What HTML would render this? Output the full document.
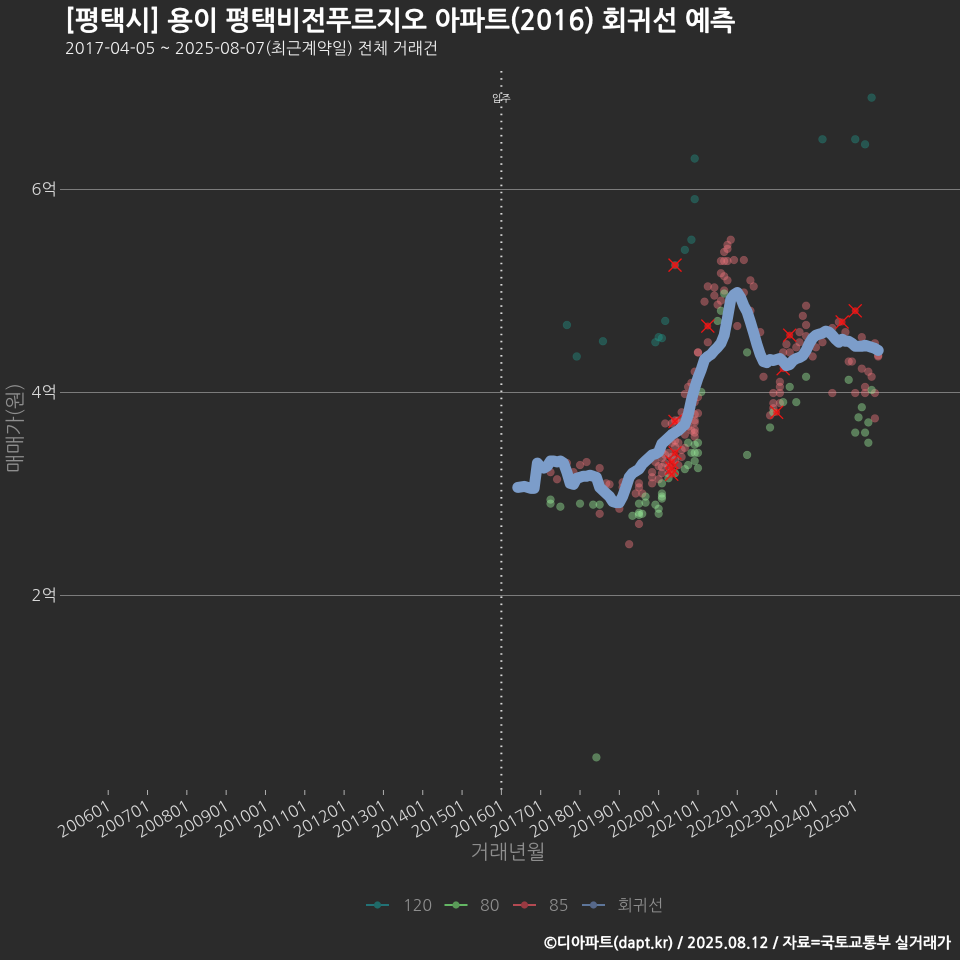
<!DOCTYPE html>
<html lang="ko">
<head>
<meta charset="utf-8">
<title>평택비전푸르지오 회귀선 예측</title>
<style>
html,body{margin:0;padding:0;background:#2b2b2b;}
#chart{display:block;width:960px;height:960px;}
text{font-family:"NanumGothic","Liberation Sans","Noto Sans CJK KR",sans-serif;}
</style>
</head>
<body>
<svg id="chart" xmlns="http://www.w3.org/2000/svg" width="960" height="960" viewBox="0 0 960 960">
<rect x="0" y="0" width="960" height="960" fill="#2b2b2b"/>
<text x="65" y="30" font-size="26.8" font-weight="700" fill="#ffffff" stroke="#ffffff" stroke-width="0.3">[평택시] 용이 평택비전푸르지오 아파트(2016) 회귀선 예측</text>
<text x="65" y="54" font-size="16.2" fill="#f0f0f0">2017-04-05 ~ 2025-08-07(최근계약일) 전체 거래건</text>
<g id="grid"></g>
<g id="xaxis"></g>
<g id="marks"></g>
<text x="508" y="859" font-size="20" text-anchor="middle" fill="#8e8e8e">거래년월</text>
<text transform="translate(22,428) rotate(-90)" font-size="20" text-anchor="middle" fill="#8e8e8e">매매가(원)</text>
<g id="legend"></g>
<text x="951" y="948" font-size="14.95" font-weight="700" text-anchor="end" fill="#ffffff" stroke="#ffffff" stroke-width="0.2">©디아파트(dapt.kr) / 2025.08.12 / 자료=국토교통부 실거래가</text>
</svg>
<script>
const xTickLabels = ["200601","200701","200801","200901","201001","201101","201201","201301","201401","201501","201601","201701","201801","201901","202001","202101","202201","202301","202401","202501"];
const yTickValues = [2, 4, 6];
const moveInMonth = 201601;
const moveInLabel = "입주";
const legendLabels = ["120","80","85","회귀선"];

const series120 = [[201709,4.66],[201712,4.35],[201808,4.50],[201912,4.49],[202001,4.54],[202002,4.53],[202003,4.70],[202012,6.30],[202012,5.90],[202009,5.40],[202011,5.50],[202006,5.25],[202403,6.49],[202501,6.49],[202504,6.44],[202506,6.90]];

const series80 = [[201704,2.94],[201704,2.90],[201707,2.87],[201801,2.90],[201805,2.89],[201807,2.89],[201806,0.40],[201907,2.90],[201909,2.91],[201909,2.97],[201905,2.78],[201907,2.79],[201908,2.80],[201907,2.81],[201912,2.89],[202001,2.85],[202001,2.80],[202002,3.00],[202002,2.97],[202002,2.95],[202002,3.10],[202009,3.24],[202004,3.15],[202006,3.20],[202010,3.50],[202012,3.48],[202101,3.50],[202011,3.40],[202012,3.40],[202012,3.32],[202101,3.25],[202010,3.28],[202101,3.40],[202102,4.00],[202107,4.70],[202108,4.80],[202109,4.97],[202204,4.39],[202204,3.38],[202305,4.05],[202303,3.90],[202307,3.90],[202310,4.15],[202211,3.65],[202212,3.80],[202411,4.12],[202503,3.85],[202502,3.75],[202505,3.70],[202501,3.60],[202504,3.60],[202505,3.50],[202506,4.02]];

const series85 = [[201704,3.21],[201706,3.14],[201709,3.30],[201711,3.21],[201801,3.28],[201803,3.31],[201807,3.25],[201809,3.10],[201810,3.09],[201901,2.85],[201807,2.80],[201904,2.50],[201907,2.70],[201902,3.11],[201902,3.06],[201906,3.00],[201908,3.00],[201907,3.10],[201907,3.06],[201911,3.21],[201911,3.16],[201911,3.10],[202001,3.27],[202001,3.14],[202002,3.20],[201912,3.31],[202002,3.26],[202004,3.26],[202003,3.69],[202005,3.69],[202006,3.72],[202008,3.80],[202009,3.98],[202011,4.09],[202012,4.20],[202101,4.39],[202012,3.72],[202012,3.63],[202012,3.60],[202009,3.58],[202005,3.50],[202006,3.46],[202008,3.43],[202004,3.40],[202001,3.45],[202002,3.35],[202003,3.30],[202006,3.33],[202007,3.28],[202008,3.36],[202009,3.45],[202007,3.72],[202101,3.79],[202012,3.70],[202002,3.42],[202003,3.38],[202004,3.20],[202005,3.36],[202006,3.52],[202007,3.50],[202008,3.70],[202009,3.76],[202010,3.66],[202011,3.85],[202012,3.90],[202101,3.95],[202010,4.05],[202011,3.62],[202012,3.78],[202012,3.56],
[202111,5.50],[202110,5.45],[202110,5.41],[202109,5.38],[202108,5.29],[202109,5.29],[202110,5.29],[202112,5.30],[202203,5.30],[202108,5.17],[202109,5.14],[202110,5.10],[202205,5.10],[202206,5.04],[202104,5.04],[202106,5.03],[202109,5.00],[202106,4.95],[202203,4.98],[202103,4.89],[202107,4.86],[202108,4.90],[202205,4.80],[202201,4.65],[202208,4.59],[202104,4.49],[202101,4.39],
[202310,4.85],[202309,4.75],[202310,4.66],[202308,4.59],[202310,4.55],[202308,4.49],[202307,4.44],[202304,4.47],[202303,4.39],[202305,4.39],[202312,4.35],[202401,4.44],[202403,4.49],[202406,4.63],[202408,4.69],[202410,4.59],[202503,4.54],[202507,4.48],[202508,4.35],
[202209,4.15],[202302,4.10],[202302,4.05],[202302,3.99],[202212,3.99],[202212,3.89],[202302,3.89],[202211,3.77],[202212,3.84],[202406,3.99],[202412,4.30],[202411,4.30],[202503,4.23],[202505,4.20],[202506,4.15],[202501,3.99],[202504,4.05],[202504,3.99],[202507,3.99],[202507,3.74],[202508,4.36]];

const outliers = [[202006,5.25],[202104,4.65],[202305,4.56],[202409,4.69],[202501,4.80],[202301,3.80],[202303,4.23],[202006,3.71],[202006,3.40],[202005,3.31],[202005,3.25],[202005,3.19]];

const regressionLine = [[201606,3.06],[201608,3.07],[201610,3.05],[201611,3.05],[201612,3.30],[201701,3.26],[201702,3.25],[201703,3.27],[201704,3.32],[201705,3.32],[201706,3.31],[201707,3.32],[201708,3.30],[201709,3.21],[201710,3.10],[201711,3.09],[201712,3.15],[201801,3.16],[201802,3.17],[201803,3.17],[201804,3.18],[201805,3.17],[201806,3.16],[201807,3.06],[201808,3.03],[201809,3.00],[201810,2.97],[201811,2.92],[201812,2.91],[201901,2.91],[201902,2.97],[201903,3.06],[201904,3.16],[201905,3.20],[201906,3.22],[201907,3.24],[201908,3.29],[201909,3.32],[201910,3.35],[201911,3.38],[201912,3.39],[202001,3.41],[202002,3.49],[202003,3.52],[202004,3.55],[202005,3.58],[202006,3.60],[202007,3.62],[202008,3.65],[202009,3.68],[202010,3.77],[202011,3.92],[202012,4.04],[202101,4.14],[202102,4.22],[202103,4.32],[202104,4.35],[202105,4.37],[202106,4.41],[202107,4.44],[202108,4.48],[202109,4.56],[202110,4.73],[202111,4.91],[202112,4.96],[202201,4.98],[202202,4.93],[202203,4.85],[202204,4.79],[202205,4.69],[202206,4.58],[202207,4.47],[202208,4.37],[202209,4.30],[202210,4.29],[202211,4.32],[202212,4.31],[202301,4.32],[202302,4.33],[202303,4.30],[202304,4.26],[202305,4.27],[202306,4.31],[202307,4.33],[202308,4.34],[202309,4.36],[202310,4.41],[202311,4.48],[202312,4.53],[202401,4.56],[202402,4.57],[202403,4.58],[202404,4.60],[202405,4.59],[202406,4.56],[202407,4.52],[202408,4.49],[202409,4.52],[202410,4.50],[202411,4.50],[202412,4.48],[202501,4.45],[202502,4.45],[202503,4.45],[202504,4.46],[202505,4.45],[202506,4.44],[202507,4.43],[202508,4.41]];

const NS = "http://www.w3.org/2000/svg";
function xScale(ym){
  const y = Math.floor(ym / 100), m = ym % 100;
  return 108.2 + ((y - 2006) * 12 + (m - 1)) * 3.2765;
}
function yScale(v){ return 595 - (v - 2) * 101.5; }
function make(tag, parent, attrs){
  const el = document.createElementNS(NS, tag);
  for (const k in attrs) el.setAttribute(k, attrs[k]);
  parent.appendChild(el);
  return el;
}
const grid = document.getElementById("grid");
const xaxis = document.getElementById("xaxis");
const marks = document.getElementById("marks");
const legend = document.getElementById("legend");

yTickValues.forEach(function(v){
  const line = make("line", grid, {x1:60, x2:960, y1:yScale(v)+0.5, y2:yScale(v)+0.5, stroke:"#7c7c7c", "stroke-width":1});
  
  
  const t = make("text", grid, {x:57, y:yScale(v)+6, "font-size":16.5, "text-anchor":"end", fill:"#d8d8d8"});
  t.textContent = v + "억";
  
  
});

xTickLabels.forEach(function(lab){
  const x = xScale(Number(lab));
  const tick = make("line", xaxis, {x1:x, x2:x, y1:790, y2:795, stroke:"#b0b0b0", "stroke-width":1});
  
  
  const t = make("text", xaxis, {transform:"translate("+(x+4)+",809) rotate(-30)", "font-size":16, "text-anchor":"end", fill:"#d8d8d8"});
  t.textContent = lab;
  
  
});

const moveX = xScale(moveInMonth);
const moveLine = make("line", marks, {x1:moveX, x2:moveX, y1:71, y2:795, stroke:"#d8d8d8", "stroke-width":2, "stroke-dasharray":"1.6 5.5"});


const moveText = make("text", marks, {x:moveX, y:102, "font-size":10, "text-anchor":"middle", fill:"#ffffff"});
moveText.textContent = moveInLabel;



function drawDots(data, color, opacity, name){
  data.forEach(function(d){
    const c = make("circle", marks, {cx:xScale(d[0]), cy:yScale(d[1]), r:3.9, fill:color, "fill-opacity":opacity, stroke:color, "stroke-opacity":0.25, "stroke-width":0.6});
    
    
  });
}
drawDots(series120, "#20a898", 0.34, "point-120");
drawDots(series85, "#f4787e", 0.42, "point-85");
drawDots(series80, "#9cee9c", 0.42, "point-80");

outliers.forEach(function(d){
  const x = xScale(d[0]), y = yScale(d[1]);
  const c = make("circle", marks, {cx:x, cy:y, r:3.5, fill:"#ff1a1a", "fill-opacity":0.65});
  
  
  const p = make("path", marks, {d:"M"+(x-6.5)+" "+(y-6.5)+"L"+(x+6.5)+" "+(y+6.5)+"M"+(x-6.5)+" "+(y+6.5)+"L"+(x+6.5)+" "+(y-6.5), stroke:"#f01414", "stroke-width":1.3, fill:"none"});
  
  
});

const linePath = make("polyline", marks, {points:regressionLine.map(function(d){return xScale(d[0]).toFixed(1)+","+yScale(d[1]).toFixed(1);}).join(" "), fill:"none", stroke:"#7c9dca", "stroke-width":11, "stroke-linecap":"round", "stroke-linejoin":"round"});



const legendColors = ["#1f8a90","#78e678","#e2545f","#6f90c0"];
const legendDots = ["#1f6a68","#5a9a58","#9a3a42","#56688a"];
const legendKeyX = [366, 444.5, 513, 582];
const legendTextX = [403, 480, 549, 618];
legendLabels.forEach(function(lab, i){
  const l = make("line", legend, {x1:legendKeyX[i], x2:legendKeyX[i]+23, y1:905, y2:905, stroke:legendColors[i], "stroke-width":1.6});
  
  
  const c = make("circle", legend, {cx:legendKeyX[i]+11.5, cy:905, r:3.6, fill:legendDots[i]});
  
  
  const t = make("text", legend, {x:legendTextX[i], y:911, "font-size":16, fill:"#8e8e8e"});
  t.textContent = lab;
  
  
});
</script>
</body>
</html>
